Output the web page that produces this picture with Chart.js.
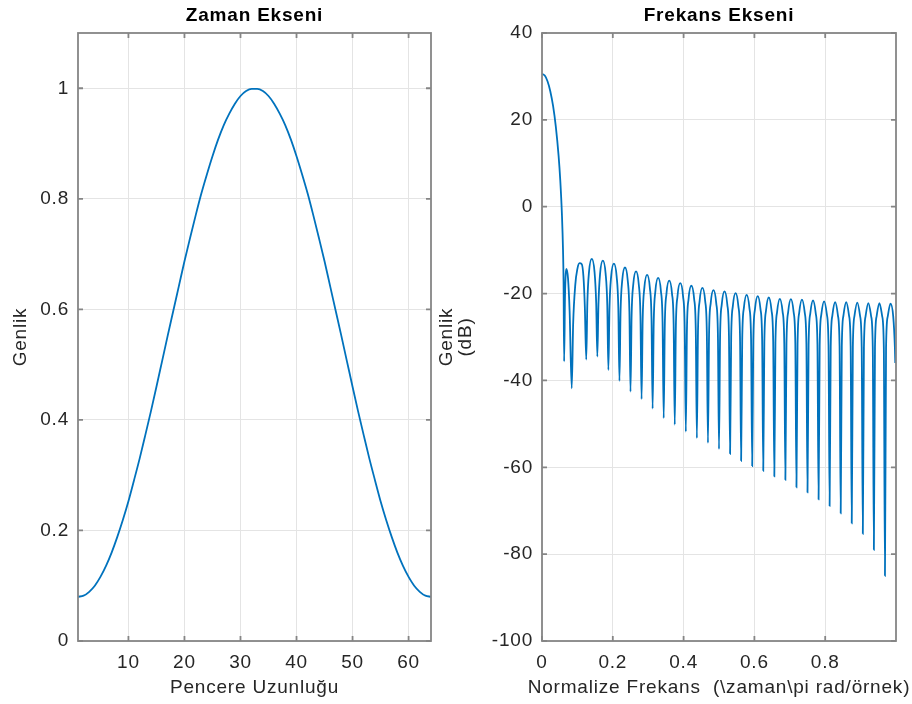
<!DOCTYPE html>
<html>
<head>
<meta charset="utf-8">
<script src="https://cdn.jsdelivr.net/npm/chart.js@4/dist/chart.umd.min.js"></script>
<style>
  html, body { margin: 0; padding: 0; background: #ffffff; }
  #wrap { position: relative; width: 912px; height: 704px; overflow: hidden; background: #ffffff; }
  canvas { position: absolute; top: 0; }
  #c1 { left: 0px; }
  #c2 { left: 436px; }
</style>
</head>
<body>
<div id="wrap">
  <canvas id="c1" width="440" height="704"></canvas>
  <canvas id="c2" width="476" height="704"></canvas>
</div>
<script>
// ---------- Left chart: time domain (window samples) ----------
const timeSamples = [1,2,3,4,5,6,7,8,9,10,11,12,13,14,15,16,17,18,19,20,21,22,23,24,25,26,27,28,29,30,31,32,
  33,34,35,36,37,38,39,40,41,42,43,44,45,46,47,48,49,50,51,52,53,54,55,56,57,58,59,60,61,62,63,64];
const timeAmplitude = [0.080,0.082,0.089,0.100,0.116,0.136,0.160,0.188,0.219,0.253,0.291,0.330,0.372,0.415,0.460,0.506,
  0.552,0.597,0.642,0.687,0.729,0.770,0.809,0.844,0.877,0.907,0.933,0.954,0.972,0.986,0.995,0.999,
  0.999,0.995,0.986,0.972,0.954,0.933,0.907,0.877,0.844,0.809,0.770,0.729,0.687,0.642,0.597,0.552,
  0.506,0.460,0.415,0.372,0.330,0.291,0.253,0.219,0.188,0.160,0.136,0.116,0.100,0.089,0.082,0.080];
const timeXTicks = [10,20,30,40,50,60];
const timeXTickLabels = ['10','20','30','40','50','60'];
const timeYTicks = [0,0.2,0.4,0.6,0.8,1];
const timeYTickLabels = ['0','0.2','0.4','0.6','0.8','1'];

// ---------- Right chart: frequency domain (dB) ----------
const freqValues = [
  0.0000,0.0078,0.0156,0.0234,0.0313,0.0391,0.0469,0.0516,0.0563,0.0594,0.0609,0.0625,
  0.0650,0.0690,0.0735,0.0780,0.0840,0.0880,0.0940,0.1000,0.1060,0.1120,0.1170,0.1210,
  0.1250,0.1281,0.1328,0.1406,0.1484,0.1531,
  0.1563,0.1594,0.1641,0.1719,0.1797,0.1844,
  0.1875,0.1906,0.1953,0.2031,0.2109,0.2156,
  0.2188,0.2219,0.2266,0.2344,0.2422,0.2469,
  0.2500,0.2531,0.2578,0.2656,0.2734,0.2781,
  0.2813,0.2844,0.2891,0.2969,0.3047,0.3094,
  0.3125,0.3156,0.3203,0.3281,0.3359,0.3406,
  0.3438,0.3469,0.3516,0.3594,0.3672,0.3719,
  0.3750,0.3781,0.3828,0.3906,0.3984,0.4031,
  0.4063,0.4094,0.4141,0.4219,0.4297,0.4344,
  0.4375,0.4406,0.4453,0.4531,0.4609,0.4656,
  0.4688,0.4719,0.4766,0.4844,0.4922,0.4969,
  0.5000,0.5031,0.5078,0.5156,0.5234,0.5281,
  0.5313,0.5344,0.5391,0.5469,0.5547,0.5594,
  0.5625,0.5656,0.5703,0.5781,0.5859,0.5906,
  0.5938,0.5969,0.6016,0.6094,0.6172,0.6219,
  0.6250,0.6281,0.6328,0.6406,0.6484,0.6531,
  0.6563,0.6594,0.6641,0.6719,0.6797,0.6844,
  0.6875,0.6906,0.6953,0.7031,0.7109,0.7156,
  0.7188,0.7219,0.7266,0.7344,0.7422,0.7469,
  0.7500,0.7531,0.7578,0.7656,0.7734,0.7781,
  0.7813,0.7844,0.7891,0.7969,0.8047,0.8094,
  0.8125,0.8156,0.8203,0.8281,0.8359,0.8406,
  0.8438,0.8469,0.8516,0.8594,0.8672,0.8719,
  0.8750,0.8781,0.8828,0.8906,0.8984,0.9031,
  0.9063,0.9094,0.9141,0.9219,0.9297,0.9344,
  0.9375,0.9406,0.9453,0.9531,0.9609,0.9656,
  0.9688,0.9719,0.9766,0.9844,0.9922,0.9969,
  0.9980];
const magnitudeDb = [
  30.6,30.2,28.9,26.6,23.2,18.4,11.7,6.1,-1.8,-10.1,-17.4,-35.6,
  -20.5,-14.3,-16.5,-24.0,-41.8,-27.0,-18.0,-14.3,-13.0,-13.2,-16.0,-23.0,
  -35.2,-22.2,-15.0,-12.0,-15.0,-22.2,
  -34.5,-22.6,-15.4,-12.4,-15.4,-22.6,
  -37.6,-23.3,-16.1,-13.1,-16.1,-23.3,
  -40.1,-24.2,-17.0,-14.0,-17.0,-24.2,
  -42.6,-25.1,-17.9,-14.9,-17.9,-25.1,
  -44.3,-25.9,-18.7,-15.7,-18.7,-25.9,
  -46.5,-26.6,-19.4,-16.4,-19.4,-26.6,
  -48.7,-27.2,-20.0,-17.0,-20.0,-27.2,
  -50.2,-27.8,-20.6,-17.6,-20.6,-27.8,
  -51.8,-28.4,-21.2,-18.2,-21.2,-28.4,
  -53.3,-28.9,-21.7,-18.7,-21.7,-28.9,
  -54.4,-29.4,-22.2,-19.2,-22.2,-29.4,
  -55.8,-29.7,-22.5,-19.5,-22.5,-29.7,
  -56.9,-30.1,-22.9,-19.9,-22.9,-30.1,
  -58.5,-30.5,-23.3,-20.3,-23.3,-30.5,
  -59.7,-30.8,-23.6,-20.6,-23.6,-30.8,
  -60.8,-31.1,-23.9,-20.9,-23.9,-31.1,
  -62.1,-31.4,-24.2,-21.2,-24.2,-31.4,
  -62.9,-31.5,-24.3,-21.3,-24.3,-31.5,
  -64.6,-31.6,-24.4,-21.4,-24.4,-31.6,
  -65.8,-31.8,-24.6,-21.6,-24.6,-31.8,
  -67.4,-32.0,-24.8,-21.8,-24.8,-32.0,
  -68.9,-32.2,-25.0,-22.0,-25.0,-32.2,
  -70.6,-32.2,-25.0,-22.0,-25.0,-32.2,
  -72.9,-32.3,-25.1,-22.1,-25.1,-32.3,
  -75.3,-32.4,-25.2,-22.2,-25.2,-32.4,
  -79.0,-32.4,-25.2,-22.2,-25.2,-32.4,
  -85.0,-32.5,-25.3,-22.3,-25.3,-32.5,
  -36.0];
const freqXTicks = [0,0.2,0.4,0.6,0.8];
const freqXTickLabels = ['0','0.2','0.4','0.6','0.8'];
const freqYTicks = [-100,-80,-60,-40,-20,0,20,40];
const freqYTickLabels = ['-100','-80','-60','-40','-20','0','20','40'];

const FONT = "'Liberation Sans', Arial, Helvetica, sans-serif";
const TEXT_COLOR = '#262626';
const AXIS_COLOR = '#858585';
const GRID_COLOR = '#e4e4e4';
const LINE_COLOR = 'rgb(0,114,189)';
const LETTER_SPACING = '0.8px';

const spacingPlugin = {
  id: 'letterSpacing',
  beforeInit(chart) { if ('letterSpacing' in chart.ctx) chart.ctx.letterSpacing = LETTER_SPACING; },
  beforeDraw(chart) { if ('letterSpacing' in chart.ctx) chart.ctx.letterSpacing = LETTER_SPACING; }
};

function boxPlugin(titleText, xTitleText) {
  return {
    id: 'matlabBox',
    afterDatasetsDraw(chart) {
      const {ctx, chartArea: a, scales} = chart;
      ctx.save();
      ctx.strokeStyle = AXIS_COLOR;
      ctx.lineWidth = 1.8;
      ctx.strokeRect(a.left, a.top, a.right - a.left, a.bottom - a.top);
      const tl = 5;
      ctx.beginPath();
      scales.x.ticks.forEach(t => {
        const px = scales.x.getPixelForValue(t.value);
        ctx.moveTo(px, a.bottom); ctx.lineTo(px, a.bottom - tl);
        ctx.moveTo(px, a.top); ctx.lineTo(px, a.top + tl);
      });
      scales.y.ticks.forEach(t => {
        const py = scales.y.getPixelForValue(t.value);
        ctx.moveTo(a.left, py); ctx.lineTo(a.left + tl, py);
        ctx.moveTo(a.right, py); ctx.lineTo(a.right - tl, py);
      });
      ctx.stroke();
      const cx = (a.left + a.right) / 2;
      ctx.textAlign = 'center';
      ctx.textBaseline = 'middle';
      ctx.fillStyle = '#000000';
      ctx.font = 'bold 19px ' + FONT;
      ctx.fillText(titleText, cx, 16);
      ctx.fillStyle = TEXT_COLOR;
      ctx.font = '19px ' + FONT;
      ctx.fillText(xTitleText, cx, 688);
      ctx.restore();
    }
  };
}

function makeChart(canvasId, cfg) {
  const tickFont = {family: FONT, size: 19};
  const labelFont = {family: FONT, size: 19, lineHeight: 1.0};
  return new Chart(document.getElementById(canvasId), {
    type: 'line',
    data: {
      datasets: [{
        data: cfg.xs.map((x, i) => ({x: x, y: cfg.ys[i]})),
        borderColor: LINE_COLOR,
        borderWidth: 1.8,
        pointRadius: 0,
        fill: false,
        cubicInterpolationMode: 'monotone'
      }]
    },
    options: {
      responsive: false,
      animation: false,
      devicePixelRatio: 1,
      events: [],
      layout: {padding: {left: 0, right: cfg.padRight, top: 33, bottom: 0}},
      plugins: {legend: {display: false}, tooltip: {enabled: false}, title: {display: false}},
      scales: {
        x: {
          type: 'linear',
          min: cfg.xMin, max: cfg.xMax,
          afterBuildTicks: s => { s.ticks = cfg.xTicks.map(v => ({value: v})); },
          afterFit: s => { s.height = 63; },
          border: {display: false},
          grid: {color: GRID_COLOR, lineWidth: 1, drawTicks: false},
          ticks: {
            font: tickFont, color: TEXT_COLOR, padding: 10, maxRotation: 0, autoSkip: false,
            callback: (v) => { const i = cfg.xTicks.indexOf(v); return i >= 0 ? cfg.xLabels[i] : ''; }
          },
          title: {display: false}
        },
        y: {
          type: 'linear',
          min: cfg.yMin, max: cfg.yMax,
          afterBuildTicks: s => { s.ticks = cfg.yTicks.map(v => ({value: v})); },
          afterFit: s => { s.width = cfg.yWidth; },
          border: {display: false},
          grid: {color: GRID_COLOR, lineWidth: 1, drawTicks: false},
          ticks: {
            font: tickFont, color: TEXT_COLOR, padding: 9, autoSkip: false,
            callback: (v) => { const i = cfg.yTicks.indexOf(v); return i >= 0 ? cfg.yLabels[i] : ''; }
          },
          title: {display: true, text: cfg.yTitle, font: labelFont, color: TEXT_COLOR, padding: {top: cfg.yTitlePad, bottom: 0}}
        }
      }
    },
    plugins: [spacingPlugin, boxPlugin(cfg.title, cfg.xTitle)]
  });
}

makeChart('c1', {
  xs: timeSamples, ys: timeAmplitude,
  xMin: 1, xMax: 64, yMin: 0, yMax: 1.1,
  xTicks: timeXTicks, xLabels: timeXTickLabels,
  yTicks: timeYTicks, yLabels: timeYTickLabels,
  xTitle: 'Pencere Uzunluğu', yTitle: 'Genlik',
  title: 'Zaman Ekseni',
  yWidth: 78, padRight: 9, yTitlePad: 11
});

makeChart('c2', {
  xs: freqValues, ys: magnitudeDb,
  xMin: 0, xMax: 1, yMin: -100, yMax: 40,
  xTicks: freqXTicks, xLabels: freqXTickLabels,
  yTicks: freqYTicks, yLabels: freqYTickLabels,
  xTitle: 'Normalize Frekans  (\\zaman\\pi rad/örnek)', yTitle: ['Genlik', '(dB)'],
  title: 'Frekans Ekseni',
  yWidth: 106, padRight: 16, yTitlePad: 1.5
});
</script>
</body>
</html>
